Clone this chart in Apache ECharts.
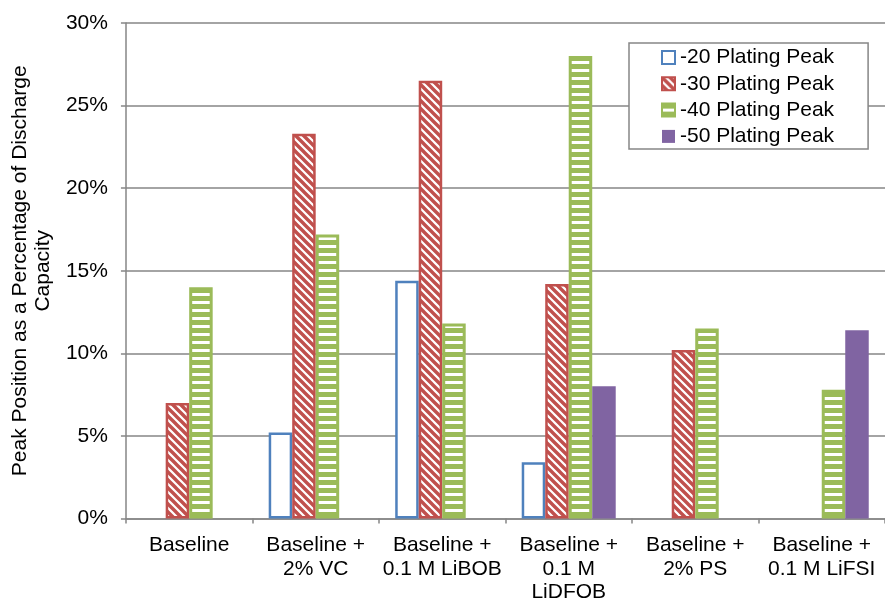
<!DOCTYPE html>
<html>
<head>
<meta charset="utf-8">
<script src="https://cdn.jsdelivr.net/npm/echarts@6/dist/echarts.min.js"></script>
<style>
html,body{margin:0;padding:0;background:#fff;}
#chart{width:885px;height:604px;}
</style>
</head>
<body>
<div id="chart"></div>
<script>
const categories = ['Baseline', 'Baseline +\n2% VC', 'Baseline +\n0.1 M LiBOB', 'Baseline +\n0.1 M\nLiDFOB', 'Baseline +\n2% PS', 'Baseline +\n0.1 M LiFSI'];
const seriesNames = ['-20 Plating Peak', '-30 Plating Peak', '-40 Plating Peak', '-50 Plating Peak'];
const peak20 = [null, 5.2, 14.4, 3.4, null, null];
const peak30 = [7.0, 23.3, 26.5, 14.2, 10.2, null];
const peak40 = [14.0, 17.2, 11.8, 28.0, 11.5, 7.8];
const peak50 = [null, null, null, 8.0, null, 11.4];
const yTicks = {min: 0, max: 30, interval: 5};

const FONT = "'Liberation Sans', Arial, sans-serif";
const FS = 21;
const BLUE = '#4f81bd', RED = '#c0504d', GREEN = '#9bbb59', PURPLE = '#8064a2';
const GRID = '#868686';

function diagPattern() {
  const c = document.createElement('canvas');
  c.width = 8; c.height = 8;
  const g = c.getContext('2d');
  g.fillStyle = '#fff'; g.fillRect(0, 0, 8, 8);
  g.strokeStyle = RED; g.lineWidth = 3.4;
  g.beginPath();
  [-8, 0, 8].forEach(o => { g.moveTo(o - 2, -2); g.lineTo(o + 10, 10); });
  g.stroke();
  return c;
}
function horizPattern() {
  const c = document.createElement('canvas');
  c.width = 8; c.height = 8;
  const g = c.getContext('2d');
  g.fillStyle = GREEN; g.fillRect(0, 0, 8, 8);
  g.fillStyle = '#fff'; g.fillRect(0, 5, 8, 3);
  return c;
}

const chart = echarts.init(document.getElementById('chart'), null, {renderer: 'canvas'});
const barW = 23.5;
chart.setOption({
  animation: false,
  backgroundColor: '#fff',
  textStyle: {fontFamily: FONT},
  grid: {left: 125, top: 23, width: 768, height: 498, containLabel: false},
  legend: {
    orient: 'vertical', left: 629, top: 43,
    padding: [4, 34, 2, 32], itemGap: 5.3,
    itemWidth: 13, itemHeight: 13, icon: 'rect',
    backgroundColor: '#fff', borderColor: GRID, borderWidth: 1.5,
    textStyle: {fontSize: FS, color: '#000', fontFamily: FONT, lineHeight: 21},
    data: seriesNames
  },
  xAxis: {
    type: 'category', data: categories,
    axisLine: {lineStyle: {color: GRID, width: 1.5}},
    axisTick: {show: true, length: 5, lineStyle: {color: GRID, width: 1.5}},
    axisLabel: {interval: 0, fontSize: FS, lineHeight: 23.5, color: '#000', margin: 15, fontFamily: FONT}
  },
  yAxis: {
    type: 'value', min: yTicks.min, max: yTicks.max, interval: yTicks.interval,
    name: 'Peak Position as a Percentage of Discharge\nCapacity',
    nameLocation: 'middle', nameGap: 68,
    nameTextStyle: {fontSize: FS, lineHeight: 23.5, color: '#000', fontFamily: FONT, align: 'center'},
    axisLine: {show: true, lineStyle: {color: GRID, width: 1.5}},
    axisTick: {show: true, length: 5, lineStyle: {color: GRID, width: 1.5}},
    axisLabel: {formatter: '{value}%', fontSize: FS, color: '#000', margin: 18, fontFamily: FONT},
    splitLine: {show: true, lineStyle: {color: GRID, width: 1.5}}
  },
  series: [
    {name: seriesNames[0], type: 'bar', data: peak20, barWidth: barW, barGap: '0%',
     itemStyle: {color: '#fff', borderColor: BLUE, borderWidth: 2.5}},
    {name: seriesNames[1], type: 'bar', data: peak30, barWidth: barW, barGap: '0%',
     itemStyle: {color: {image: diagPattern(), repeat: 'repeat'}, borderColor: RED, borderWidth: 2.5}},
    {name: seriesNames[2], type: 'bar', data: peak40, barWidth: barW, barGap: '0%',
     itemStyle: {color: {image: horizPattern(), repeat: 'repeat'}, borderColor: GREEN, borderWidth: 3}},
    {name: seriesNames[3], type: 'bar', data: peak50, barWidth: barW, barGap: '0%',
     itemStyle: {color: PURPLE}}
  ]
});
</script>
</body>
</html>
